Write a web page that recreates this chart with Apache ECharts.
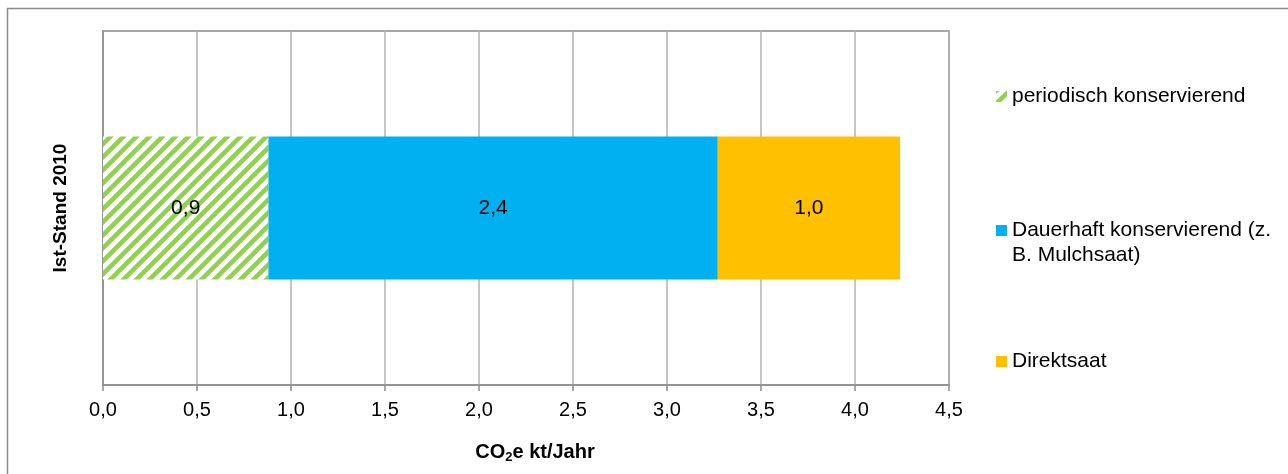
<!DOCTYPE html>
<html>
<head>
<meta charset="utf-8">
<script src="https://cdn.jsdelivr.net/npm/echarts@6/dist/echarts.min.js"></script>
<style>
html,body{margin:0;padding:0;background:#fff;}
#chart{width:1288px;height:474px;}
</style>
</head>
<body>
<div id="chart"></div>
<script>
const categories = ['Ist-Stand 2010'];
const seriesNames = ['periodisch konservierend', 'Dauerhaft konservierend (z. B. Mulchsaat)', 'Direktsaat'];
const periodisch = [0.88];
const dauerhaft = [2.39];
const direktsaat = [0.97];
const xTicks = [0, 0.5, 1, 1.5, 2, 2.5, 3, 3.5, 4, 4.5];

function makePattern() {
  const s = 13;
  const c = document.createElement('canvas');
  c.width = s; c.height = s;
  const g = c.getContext('2d');
  g.fillStyle = '#ffffff';
  g.fillRect(0, 0, s, s);
  g.strokeStyle = '#92d050';
  g.lineWidth = 4.6;
  g.beginPath();
  g.moveTo(-3, s + 3); g.lineTo(s + 3, -3);
  g.moveTo(-3, 3); g.lineTo(3, -3);
  g.moveTo(s - 3, s + 3); g.lineTo(s + 3, s - 3);
  g.stroke();
  return c;
}
function makeTopSquareIcon(color) {
  const c = document.createElement('canvas');
  c.width = 11; c.height = 36;
  const g = c.getContext('2d');
  g.fillStyle = color;
  g.fillRect(0, 0, 11, 11);
  return 'image://' + c.toDataURL();
}
const fmt = v => v.toFixed(1).replace('.', ',');
const pattern = { image: makePattern(), repeat: 'repeat' };
const FONT = 'Liberation Sans, Arial, sans-serif';
const FS = 21;

const chart = echarts.init(document.getElementById('chart'), null, { renderer: 'canvas' });
const labelCfg = {
  show: true, position: 'inside', color: '#000', fontSize: FS, fontFamily: FONT,
  formatter: p => fmt(p.value)
};
const legendBase = {
  orient: 'vertical', left: 996, itemWidth: 11, itemHeight: 11, padding: 0,
  textStyle: { fontSize: FS, fontFamily: FONT, color: '#000', lineHeight: 25 },
  selectedMode: false
};
chart.setOption({
  animation: false,
  backgroundColor: '#fff',
  textStyle: { fontFamily: FONT },
  graphic: [{
    type: 'rect', shape: { x: 7.5, y: 8.5, width: 1300, height: 500 },
    style: { fill: 'none', stroke: '#8c8c8c', lineWidth: 1.5 }, silent: true
  }],
  legend: [
    Object.assign({}, legendBase, { top: 84, data: [{ name: seriesNames[0], icon: 'rect' }] }),
    Object.assign({}, legendBase, {
      top: 218, itemHeight: 36,
      formatter: () => 'Dauerhaft konservierend (z.\nB. Mulchsaat)',
      data: [{ name: seriesNames[1], icon: makeTopSquareIcon('#00b0f0') }]
    }),
    Object.assign({}, legendBase, { top: 349, data: [{ name: seriesNames[2], icon: 'rect' }] })
  ],
  grid: {
    left: 103, top: 31, width: 846, height: 354,
    show: true, borderColor: '#8c8c8c', borderWidth: 1.5, containLabel: false
  },
  xAxis: {
    type: 'value', min: 0, max: 4.5, interval: 0.5,
    axisLine: { show: true, lineStyle: { color: '#8c8c8c', width: 1.5 } },
    axisTick: { show: true, length: 6, lineStyle: { color: '#8c8c8c', width: 1.5 } },
    splitLine: { show: true, lineStyle: { color: '#b3b3b3', width: 1.5 } },
    axisLabel: {
      fontSize: 20, color: '#000', fontFamily: FONT, margin: 15,
      formatter: v => xTicks.includes(v) ? fmt(v) : ''
    },
    name: 'CO{sub|2}e kt/Jahr',
    nameLocation: 'middle', nameGap: 56,
    nameTextStyle: {
      fontSize: 20, fontWeight: 'bold', color: '#000', fontFamily: FONT,
      padding: [0, 0, 0, 18],
      rich: { sub: { fontSize: 13, fontWeight: 'bold', color: '#000', verticalAlign: 'bottom', padding: [10, 0, 0, 0], fontFamily: FONT } }
    }
  },
  yAxis: {
    type: 'category', data: categories,
    axisLine: { show: true, lineStyle: { color: '#8c8c8c', width: 1.5 } },
    axisTick: { show: false },
    axisLabel: {
      rotate: 90, fontSize: 19, fontWeight: 'bold', color: '#000', fontFamily: FONT, margin: 33
    }
  },
  series: [
    { name: seriesNames[0], type: 'bar', stack: 'a', data: periodisch, barWidth: 143,
      itemStyle: { color: pattern }, label: labelCfg },
    { name: seriesNames[1], type: 'bar', stack: 'a', data: dauerhaft, barWidth: 143,
      itemStyle: { color: '#00b0f0' }, label: labelCfg },
    { name: seriesNames[2], type: 'bar', stack: 'a', data: direktsaat, barWidth: 143,
      itemStyle: { color: '#ffc000' }, label: labelCfg }
  ]
});
</script>
</body>
</html>
